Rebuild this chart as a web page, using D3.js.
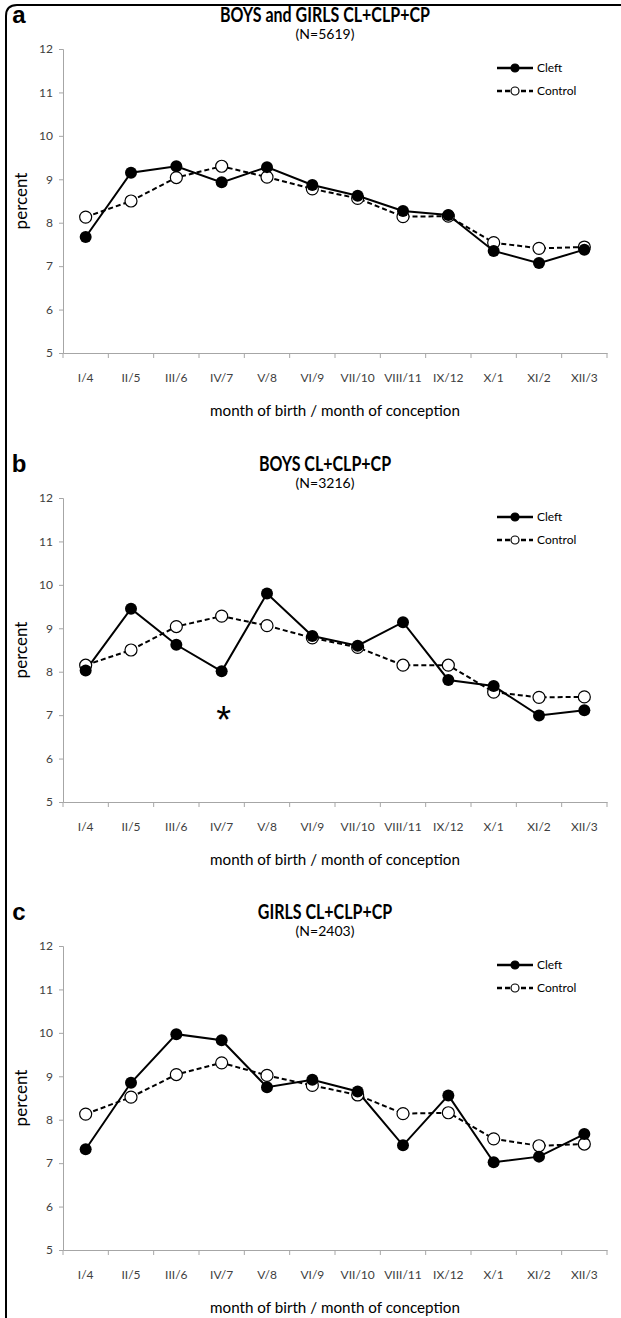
<!DOCTYPE html>
<html>
<head>
<meta charset="utf-8">
<script src="https://cdn.jsdelivr.net/npm/d3@7"></script>
<style>
  body { margin: 0; background: #fff; }
  svg { display: block; }
</style>
</head>
<body>
<script>
var months = ["I/4", "II/5", "III/6", "IV/7", "V/8", "VI/9", "VII/10", "VIII/11", "IX/12", "X/1", "XI/2", "XII/3"];
var yTicks = [5, 6, 7, 8, 9, 10, 11, 12];

var cleftA   = [7.67, 9.15, 9.30, 8.93, 9.28, 8.87, 8.62, 8.27, 8.18, 7.35, 7.07, 7.38];
var controlA = [8.13, 8.50, 9.04, 9.30, 9.05, 8.78, 8.56, 8.14, 8.15, 7.54, 7.41, 7.44];

var cleftB   = [8.03, 9.45, 8.62, 8.01, 9.80, 8.82, 8.60, 9.14, 7.81, 7.67, 6.99, 7.11];
var controlB = [8.15, 8.50, 9.04, 9.28, 9.06, 8.78, 8.56, 8.15, 8.15, 7.53, 7.41, 7.42];

var cleftC   = [7.32, 8.85, 9.97, 9.83, 8.75, 8.92, 8.65, 7.41, 8.56, 7.02, 7.15, 7.67];
var controlC = [8.13, 8.52, 9.04, 9.31, 9.02, 8.79, 8.57, 8.14, 8.16, 7.56, 7.40, 7.44];

var panels = [
  {letter: "a", title: "BOYS and GIRLS CL+CLP+CP", n: "(N=5619)", cleft: cleftA, control: controlA, top: 0},
  {letter: "b", title: "BOYS CL+CLP+CP", n: "(N=3216)", cleft: cleftB, control: controlB, top: 449, star: 3},
  {letter: "c", title: "GIRLS CL+CLP+CP", n: "(N=2403)", cleft: cleftC, control: controlC, top: 897}
];

var width = 621, height = 1318;
var font = "Lato, 'Open Sans', sans-serif";
var gray = "#a6a6a6";

var svg = d3.select("body").append("svg")
  .attr("width", width)
  .attr("height", height);

// outer frame, only top and left edges are visible
svg.append("path")
  .attr("d", "M6," + (height + 10) + " L6,16 Q6,5 17,5 L" + (width + 10) + ",5")
  .attr("fill", "none")
  .attr("stroke", "#000")
  .attr("stroke-width", 2);

// squeeze Lato a little so it runs like the narrower original face
function narrow(sel, k) {
  sel.each(function() {
    var w = this.getComputedTextLength();
    d3.select(this).attr("textLength", w * k).attr("lengthAdjust", "spacingAndGlyphs");
  });
}

var x = d3.scaleBand().domain(months).range([63, 607]);

panels.forEach(function(p) {
  var g = svg.append("g").attr("transform", "translate(0," + p.top + ")");
  var y = d3.scaleLinear().domain([5, 12]).range([353, 49]);

  g.append("text")
    .attr("x", 19).attr("y", 23)
    .attr("text-anchor", "middle")
    .style("font-family", "'Liberation Sans', Arial, sans-serif")
    .style("font-weight", "bold")
    .style("font-size", "24px")
    .text(p.letter);

  g.append("text")
    .attr("x", 325).attr("y", 22)
    .attr("text-anchor", "middle")
    .style("font-family", font)
    .style("font-weight", "bold")
    .style("font-size", "20px")
    .text(p.title)
    .call(narrow, 0.8);

  g.append("text")
    .attr("x", 325).attr("y", 39)
    .attr("text-anchor", "middle")
    .style("font-family", font)
    .style("font-size", "14px")
    .text(p.n);

  // axes
  var yAxis = g.append("g")
    .attr("transform", "translate(63,0)")
    .call(d3.axisLeft(y).tickValues(yTicks).tickFormat(d3.format("d")).tickSize(4).tickPadding(6));
  var xAxis = g.append("g")
    .attr("transform", "translate(0," + y(5) + ")")
    .call(d3.axisBottom(x).tickSize(0).tickPadding(20));

  // ticks between categories
  g.append("g")
    .selectAll("line")
    .data(d3.range(months.length + 1))
    .join("line")
    .attr("x1", function(i) { return x.range()[0] + i * x.step(); })
    .attr("x2", function(i) { return x.range()[0] + i * x.step(); })
    .attr("y1", y(5))
    .attr("y2", y(5) + 5)
    .attr("stroke", gray);

  [yAxis, xAxis].forEach(function(ax) {
    ax.select(".domain").attr("stroke", gray);
    ax.selectAll(".tick line").attr("stroke", gray);
    ax.selectAll(".tick text")
      .attr("fill", "#404040")
      .style("font-family", font)
      .style("font-size", "12px");
  });

  g.append("text")
    .attr("transform", "translate(27," + y(8.5) + ") rotate(-90)")
    .attr("text-anchor", "middle")
    .style("font-family", font)
    .style("font-size", "17px")
    .text("percent");

  g.append("text")
    .attr("x", 335).attr("y", y(5) + 63)
    .attr("text-anchor", "middle")
    .style("font-family", font)
    .style("font-size", "16px")
    .text("month of birth / month of conception")
    .call(narrow, 0.95);

  var line = d3.line()
    .x(function(d, i) { return x(months[i]) + x.bandwidth() / 2; })
    .y(function(d) { return y(d); });

  g.append("path")
    .datum(p.control)
    .attr("d", line)
    .attr("fill", "none")
    .attr("stroke", "#000")
    .attr("stroke-width", 2)
    .attr("stroke-dasharray", "5,3");

  g.append("path")
    .datum(p.cleft)
    .attr("d", line)
    .attr("fill", "none")
    .attr("stroke", "#000")
    .attr("stroke-width", 2);

  g.selectAll(".cp")
    .data(p.control)
    .join("circle")
    .attr("cx", function(d, i) { return x(months[i]) + x.bandwidth() / 2; })
    .attr("cy", function(d) { return y(d); })
    .attr("r", 6)
    .attr("fill", "#fff")
    .attr("stroke", "#000")
    .attr("stroke-width", 1.2);

  g.selectAll(".fp")
    .data(p.cleft)
    .join("circle")
    .attr("cx", function(d, i) { return x(months[i]) + x.bandwidth() / 2; })
    .attr("cy", function(d) { return y(d); })
    .attr("r", 6)
    .attr("fill", "#000");

  if (p.star !== undefined) {
    g.append("text")
      .attr("x", x(months[p.star]) + x.bandwidth() / 2 + 2)
      .attr("y", y(p.cleft[p.star]) + 62)
      .attr("text-anchor", "middle")
      .style("font-family", "'Liberation Sans', Arial, sans-serif")
      .style("font-size", "38px")
      .text("*");
  }

  // legend
  var leg = g.append("g").attr("transform", "translate(497," + (y(12) + 19) + ")");
  var items = [["Cleft", "#000", null], ["Control", "#fff", "5,3"]];
  items.forEach(function(it, i) {
    var ly = i * 23;
    leg.append("line")
      .attr("x1", 0).attr("x2", 36).attr("y1", ly).attr("y2", ly)
      .attr("stroke", "#000").attr("stroke-width", 2.5)
      .attr("stroke-dasharray", it[2]);
    leg.append("circle")
      .attr("cx", 18).attr("cy", ly).attr("r", 4)
      .attr("fill", it[1]).attr("stroke", "#000").attr("stroke-width", 1.2);
    leg.append("text")
      .attr("x", 40).attr("y", ly + 4)
      .style("font-family", font)
      .style("font-size", "12px")
      .text(it[0]);
  });
});
</script>
</body>
</html>
